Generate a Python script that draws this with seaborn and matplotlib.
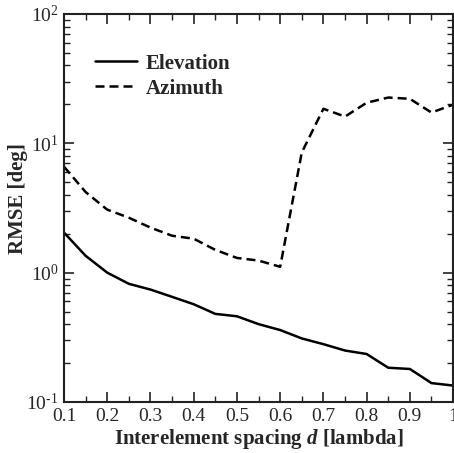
import numpy as np
import pandas as pd
import matplotlib
matplotlib.use("Agg")
import matplotlib.pyplot as plt
import seaborn as sns
from matplotlib.ticker import LogLocator, MultipleLocator, FixedLocator, FuncFormatter

spacing = [0.1, 0.15, 0.2, 0.25, 0.3, 0.35, 0.4, 0.45, 0.5, 0.55,
           0.6, 0.65, 0.7, 0.75, 0.8, 0.85, 0.9, 0.95, 1.0]
elevation = [2.04, 1.35, 1.0, 0.82, 0.74, 0.65, 0.57, 0.48, 0.46, 0.40,
             0.36, 0.31, 0.28, 0.25, 0.235, 0.184, 0.18, 0.14, 0.134]
azimuth = [6.6, 4.2, 3.07, 2.66, 2.23, 1.93, 1.83, 1.5, 1.3, 1.24,
           1.11, 8.5, 18.5, 16.1, 20.6, 22.6, 22.1, 17.3, 19.9]
series_names = ["Elevation", "Azimuth"]
x_ticks = [0.1, 0.2, 0.3, 0.4, 0.5, 0.6, 0.7, 0.8, 0.9, 1.0]
x_tick_labels = ["0.1", "0.2", "0.3", "0.4", "0.5", "0.6", "0.7", "0.8", "0.9", "1"]
y_ticks = [0.1, 1, 10, 100]

df = pd.DataFrame({
    "d": spacing * 2,
    "rmse": elevation + azimuth,
    "series": [series_names[0]] * len(spacing) + [series_names[1]] * len(spacing),
})

sns.set_style("white")
plt.rcParams["font.family"] = ["Liberation Serif", "DejaVu Serif"]
plt.rcParams["mathtext.fontset"] = "custom"
plt.rcParams["mathtext.rm"] = "Liberation Serif"
plt.rcParams["mathtext.it"] = "Liberation Serif:italic:bold"
plt.rcParams["mathtext.bf"] = "Liberation Serif:bold"

fig = plt.figure(figsize=(4.54, 4.53), dpi=100)
ax = fig.add_axes([0.141, 0.1126, 0.857, 0.8565])

lw = 1.8
sns.lineplot(data=df, x="d", y="rmse", style="series", hue="series",
             palette=["black", "black"],
             dashes={series_names[0]: "", series_names[1]: (3.6, 2.0)},
             linewidth=lw, ax=ax, legend=True)

ax.set_yscale("log")
ax.set_xlim(0.1, 1.0)
ax.set_ylim(0.1, 100)

ax.xaxis.set_major_locator(FixedLocator(x_ticks))
ax.set_xticklabels(x_tick_labels)
ax.xaxis.set_minor_locator(MultipleLocator(0.05))
ax.yaxis.set_major_locator(FixedLocator(y_ticks))
ax.yaxis.set_minor_locator(LogLocator(base=10, subs=np.arange(2, 10)))
ax.yaxis.set_minor_formatter(FuncFormatter(lambda v, p: ""))
ax.yaxis.set_major_formatter(FuncFormatter(
    lambda v, p: r"$10^{%s}$" % ("{\\text{-}1}" if v < 0.5 else int(round(np.log10(v))))))

ax.tick_params(which="both", direction="in", top=True, right=True,
               bottom=True, left=True, color="#222222")
ax.tick_params(which="major", length=7, width=1.2, labelsize=14, pad=4)
ax.tick_params(which="minor", length=4, width=1.0)
for s in ax.spines.values():
    s.set_linewidth(1.5)
    s.set_color("#222222")

ax.set_xlabel("Interelement spacing $\\mathit{d}$ [lambda]", fontsize=15,
              fontweight="bold", labelpad=2)
ax.set_ylabel("RMSE [deg]", fontsize=15, fontweight="bold")
ax.yaxis.set_label_coords(-0.092, 0.525)

leg = ax.legend(loc="upper left", bbox_to_anchor=(0.053, 0.925), frameon=False,
                prop={"weight": "bold", "size": 15}, handlelength=2.0,
                handletextpad=0.45, labelspacing=0.25, borderpad=0)
for line in leg.get_lines():
    line.set_linewidth(lw)

fig.savefig("out.png", dpi=100)
